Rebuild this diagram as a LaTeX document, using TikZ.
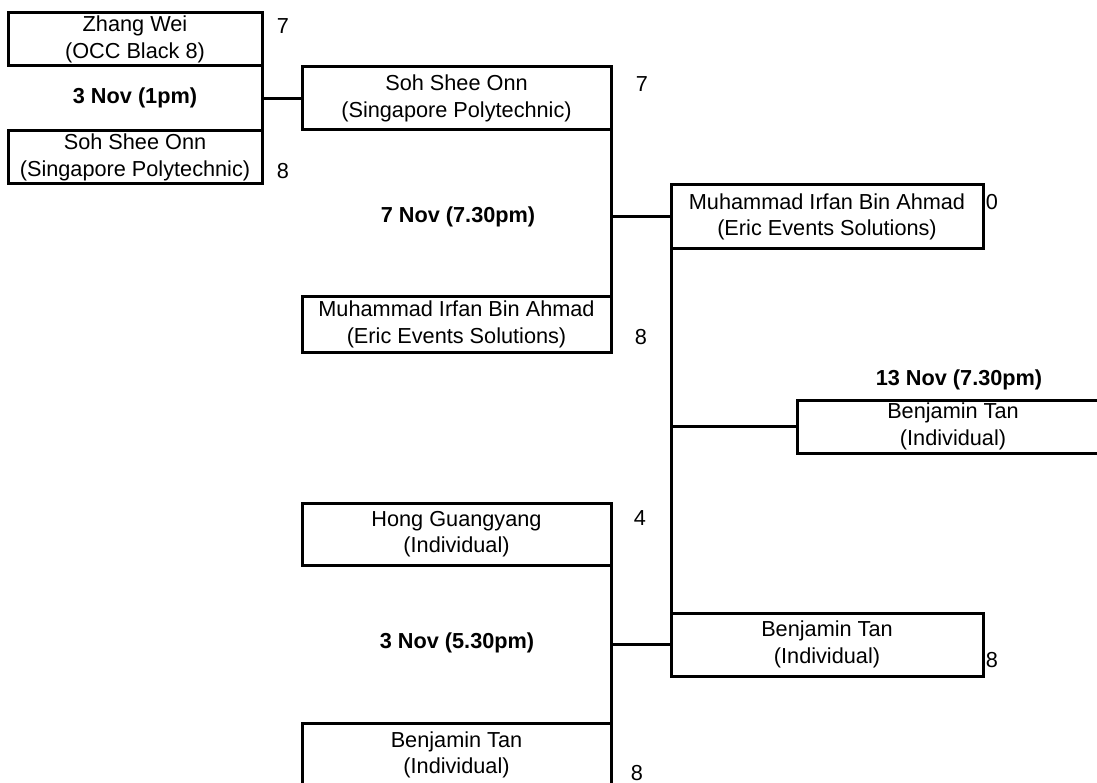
\documentclass[tikz,border=0pt]{standalone}
\usepackage{fontspec}
\setmainfont{Liberation Sans}
\begin{document}
\begin{tikzpicture}[x=1pt,y=-1pt,
  every node/.style={font=\fontsize{21.7}{26.5}\selectfont},
  player/.style={draw, line width=3pt, inner sep=0pt, outer sep=0pt, align=center},
  when/.style={font=\fontsize{21.7}{26.5}\selectfont\bfseries},
  score/.style={inner sep=0pt},
  link/.style={line width=3pt}]
\useasboundingbox (0,0) rectangle (1097,783);
\fill[white] (0,0) rectangle (1097,783);
\clip (0,0) rectangle (1097,783);

% first round, top half
\node[player, minimum width=254pt, minimum height=53pt] (zw) at (135,39.5) {Zhang Wei\\(OCC Black 8)};
\node[player, minimum width=254pt, minimum height=53pt] (sso1) at (135,157.5) {Soh Shee Onn\\(Singapore Polytechnic)};

% second round
\node[player, minimum width=309pt, minimum height=63pt] (sso2) at (456.5,98.5) {Soh Shee Onn\\(Singapore Polytechnic)};
\node[player, minimum width=309pt, minimum height=55pt] (mib1) at (456.5,324.5) {Muhammad Irfan Bin Ahmad\\(Eric Events Solutions)};
\node[player, minimum width=309pt, minimum height=62pt] (hg) at (456.5,534) {Hong Guangyang\\(Individual)};
\node[player, minimum width=309pt, minimum height=64pt] (bt1) at (456.5,755) {Benjamin Tan\\(Individual)};

% semi-final
\node[player, minimum width=312pt, minimum height=64pt] (mib2) at (827,217) {Muhammad Irfan Bin Ahmad\\(Eric Events Solutions)};
\node[player, minimum width=312pt, minimum height=63pt] (bt2) at (827,644.5) {Benjamin Tan\\(Individual)};

% final
\node[player, minimum width=312pt, minimum height=53pt] (bt3) at (953,426.5) {Benjamin Tan\\(Individual)};

% bracket lines
\draw[link] (zw.south east) -- (sso1.north east);
\draw[link] (sso2.west -| zw.east) -- (sso2.west);
\draw[link] (sso2.south east) -- (mib1.north east);
\draw[link] (mib2.west -| sso2.east) -- (mib2.west);
\draw[link] (hg.south east) -- (bt1.north east);
\draw[link] (bt2.west -| hg.east) -- (bt2.west);
\draw[link] (mib2.south west) -- (bt2.north west);
\draw[link] (bt3.west -| mib2.west) -- (bt3.west);

% match dates
\node[when] (d1) at (135,98) {3 Nov (1pm)};
\node[when] (d2) at (458,217) {7 Nov (7.30pm)};
\node[when] (d3) at (959,380) {13 Nov (7.30pm)};
\node[when] (d4) at (457,643) {3 Nov (5.30pm)};

% scores
\node[score] (s1) at (283,26) {7};
\node[score] (s2) at (283,171) {8};
\node[score] (s3) at (642,84) {7};
\node[score] (s4) at (641,337) {8};
\node[score] (s5) at (992,202) {0};
\node[score] (s6) at (992,660) {8};
\node[score] (s7) at (640,518) {4};
\node[score] (s8) at (637,773) {8};
\end{tikzpicture}
\end{document}
